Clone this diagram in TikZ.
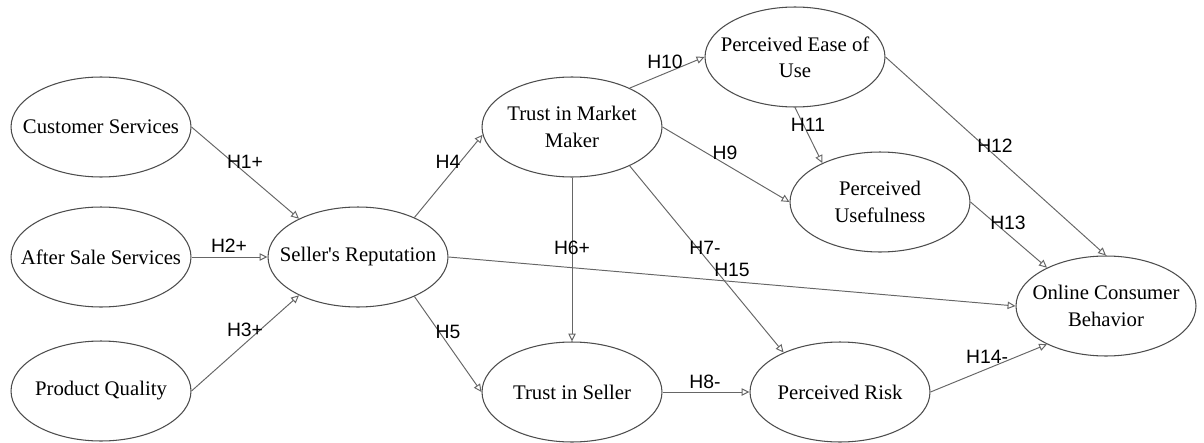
\documentclass[tikz,border=0pt]{standalone}
\usepackage{fontspec}
\setmainfont{Liberation Serif}
\newfontfamily\hypfont{Liberation Sans}
\usetikzlibrary{shapes.geometric,arrows.meta}
\tikzset{
	construct/.style={ellipse, draw=black!70, line width=0.6pt, minimum width=3.6cm, minimum height=2cm, inner sep=0pt},
	ctext/.style={align=center, font=\fontsize{11.8}{15}\selectfont, inner sep=0pt},
	link/.style={draw=black!60, line width=0.55pt, -{Triangle[open, length=4.5pt, width=4.2pt]}},
	hyp/.style={font=\hypfont\fontsize{11}{13}\selectfont, inner sep=0pt}
}
\begin{document}
\begin{tikzpicture}[x=0.02cm, y=-0.02cm]
		\useasboundingbox (0,0) rectangle (1204,443);

		\node [construct, label={[ctext]center:Customer Services}] (cs) at (101,127) {};
		\node [construct, label={[ctext]center:After Sale Services}] (as) at (101,257) {};
		\node [construct, label={[ctext]center:Product Quality}] (pq) at (101,391) {};
		\node [construct, label={[ctext]center:Seller\textquotesingle s Reputation}] (sr) at (358,257) {};
		\node [construct, label={[ctext]center:Trust in Market\\Maker}] (tmm) at (572,127) {};
		\node [construct, label={[ctext]center:Trust in Seller}] (ts) at (572,392) {};
		\node [construct, label={[ctext]center:Perceived Ease of\\Use}] (peou) at (795,57) {};
		\node [construct, label={[ctext]center:Perceived\\Usefulness}] (pu) at (880,202) {};
		\node [construct, label={[ctext]center:Perceived Risk}] (pr) at (840,392) {};
		\node [construct, label={[ctext]center:Online Consumer\\Behavior}] (ocb) at (1106,306) {};

		\draw [link] (cs.east) -- (sr.147);
		\draw [link] (as.east) -- (sr.west);
		\draw [link] (pq.east) -- (sr.213);
		\draw [link] (sr.35) -- (tmm.185);
		\draw [link] (sr.-35) -- (ts.west);
		\draw [link] (sr.east) -- (ocb.west);
		\draw [link] (tmm.south) -- (ts.north);
		\draw [link] (tmm.-34) -- (pr.145);
		\draw [link] (tmm.east) -- (pu.west);
		\draw [link] (tmm.34) -- (peou.west);
		\draw [link] (peou.south) -- (pu.146);
		\draw [link] (peou.east) -- (ocb.north);
		\draw [link] (pu.east) -- (ocb.147);
		\draw [link] (pr.east) -- (ocb.213);
		\draw [link] (ts.east) -- (pr.west);

		\node [hyp] (h1) at (245,162) {H1+};
		\node [hyp] (h2) at (229,246) {H2+};
		\node [hyp] (h3) at (245,330) {H3+};
		\node [hyp] (h4) at (448,162) {H4};
		\node [hyp] (h5) at (448,332) {H5};
		\node [hyp] (h6) at (572,248) {H6+};
		\node [hyp] (h7) at (705,248) {H7-};
		\node [hyp] (h8) at (705,382) {H8-};
		\node [hyp] (h9) at (725,153) {H9};
		\node [hyp] (h10) at (665,62) {H10};
		\node [hyp] (h11) at (808,125) {H11};
		\node [hyp] (h12) at (995,146) {H12};
		\node [hyp] (h13) at (1008,223) {H13};
		\node [hyp] (h14) at (987,357) {H14-};
		\node [hyp] (h15) at (732,270) {H15};

		\end{tikzpicture}
\end{document}
